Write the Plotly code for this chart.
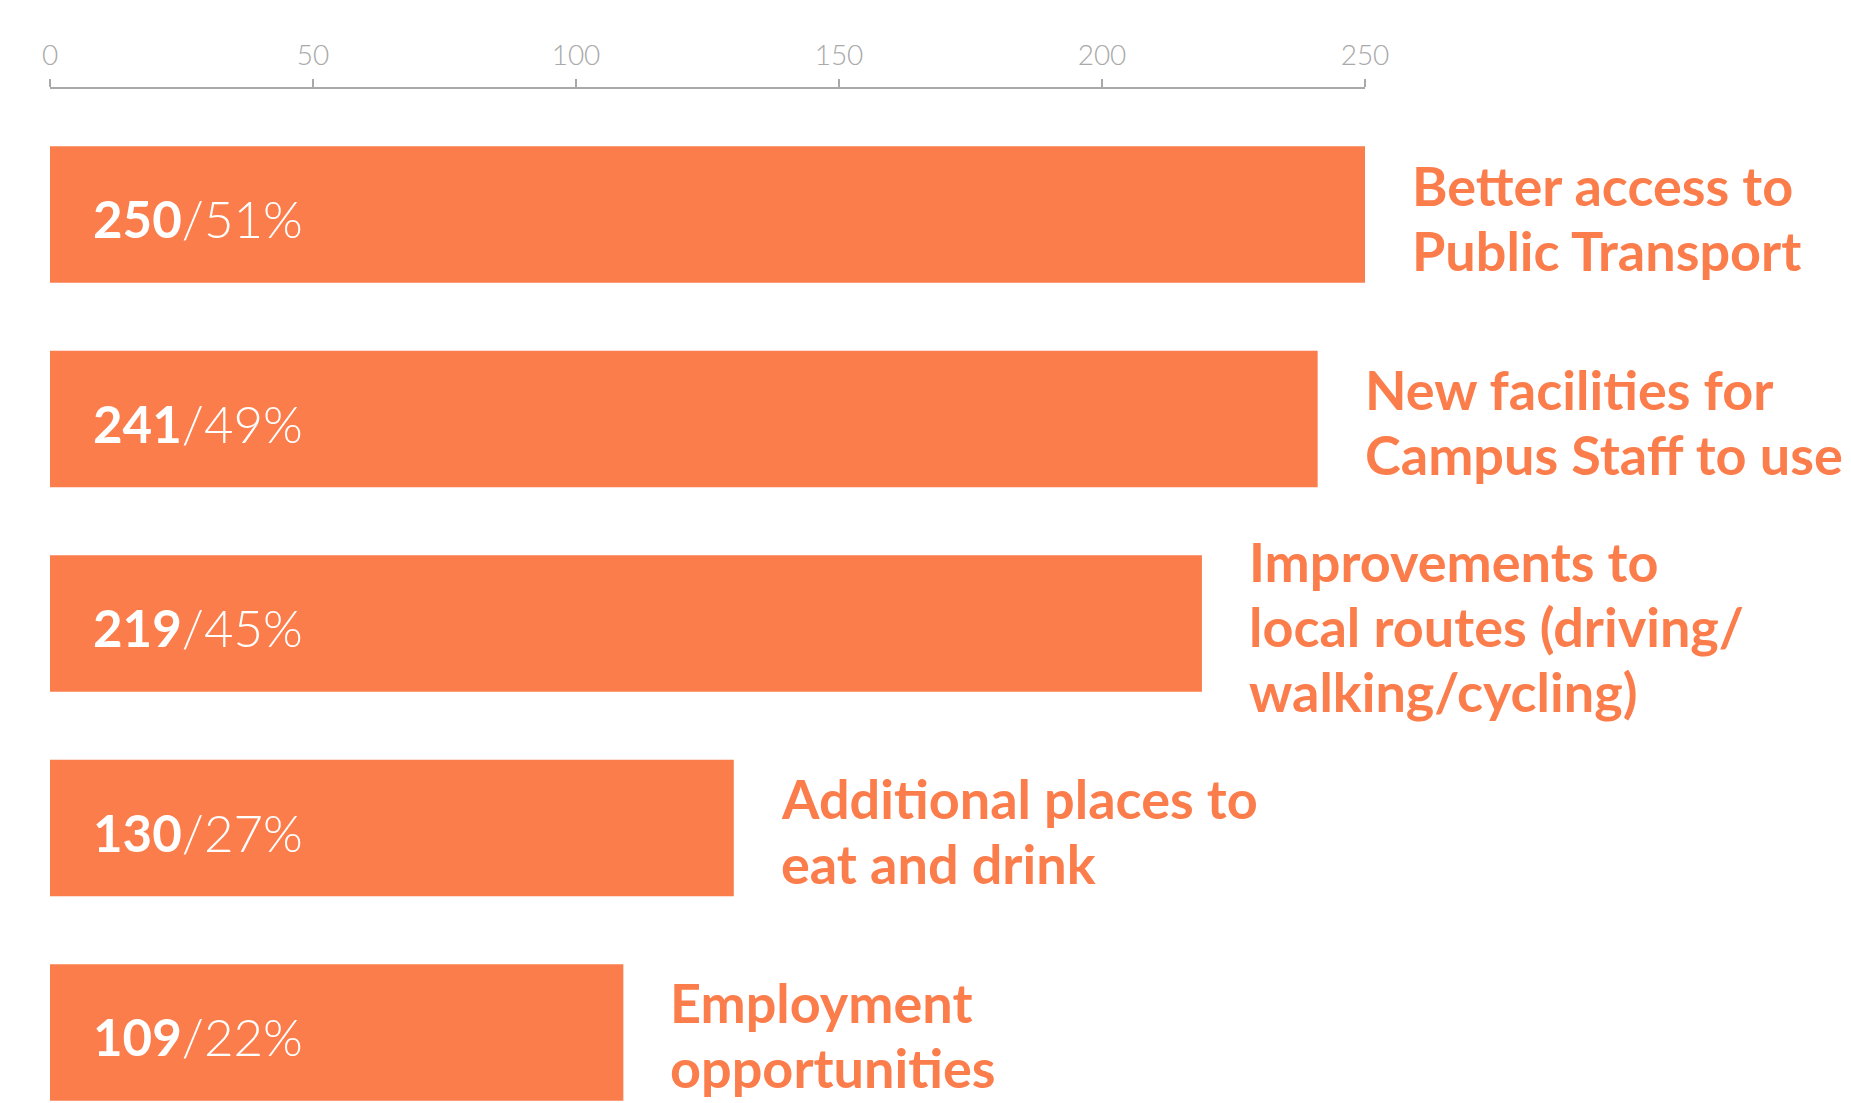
import plotly.graph_objects as go

# ---- data ----
categories = [
    "Better access to<br>Public Transport",
    "New facilities for<br>Campus Staff to use",
    "Improvements to<br>local routes (driving/<br>walking/cycling)",
    "Additional places to<br>eat and drink",
    "Employment<br>opportunities",
]
counts = [250, 241, 219, 130, 109]
percents = [51, 49, 45, 27, 22]
tick_values = [0, 50, 100, 150, 200, 250]
tick_labels = ["0", "50", "100", "150", "200", "250"]

ORANGE = "#FB7D4C"
GREY = "#A9A9A9"
FONT = "Lato"
LINE_STEP = 65  # px between label lines

cat_ids = [f"c{i}" for i in range(len(categories))]

fig = go.Figure()
fig.add_trace(go.Bar(
    x=counts,
    y=cat_ids,
    orientation="h",
    width=0.667,
    marker=dict(color=ORANGE, line=dict(width=0)),
    hoverinfo="skip",
))

annotations = []
for cid, cat, n, p in zip(cat_ids, categories, counts, percents):
    # value label inside bar
    annotations.append(dict(
        x=0, y=cid, xref="x", yref="y",
        text=f"<b>{n}</b>/{p}%",
        showarrow=False, xanchor="left", yanchor="middle",
        xshift=41, yshift=-4,
        font=dict(family=FONT, size=51, color="white", weight=300),
    ))
    # category label to the right of bar, one annotation per line
    lines = cat.split("<br>")
    k = len(lines)
    for i, line in enumerate(lines):
        annotations.append(dict(
            x=n, y=cid, xref="x", yref="y",
            text=line, align="left",
            showarrow=False, xanchor="left", yanchor="middle",
            xshift=45, yshift=-((i - (k - 1) / 2) * LINE_STEP) - 3,
            font=dict(family=FONT, size=54, color=ORANGE, weight=700),
        ))

fig.update_layout(
    width=1851, height=1103,
    margin=dict(l=42, r=494, t=81, b=0, pad=0),
    paper_bgcolor="white", plot_bgcolor="white",
    showlegend=False,
    annotations=annotations,
    xaxis=dict(
        side="top", range=[0, 250],
        tickmode="array", tickvals=tick_values, ticktext=tick_labels,
        ticks="outside", ticklen=8, tickwidth=1.5, tickcolor=GREY,
        showline=True, linecolor=GREY, linewidth=2,
        showgrid=False, zeroline=False,
        tickfont=dict(family=FONT, size=28, color=GREY, weight=300),
        ticklabelstandoff=3,
        fixedrange=True,
    ),
    yaxis=dict(
        type="category", categoryorder="array", categoryarray=cat_ids,
        range=[4.384, -0.614],
        showticklabels=False, showgrid=False, zeroline=False, showline=False,
        fixedrange=True,
    ),
)

fig.write_html("out.html")
